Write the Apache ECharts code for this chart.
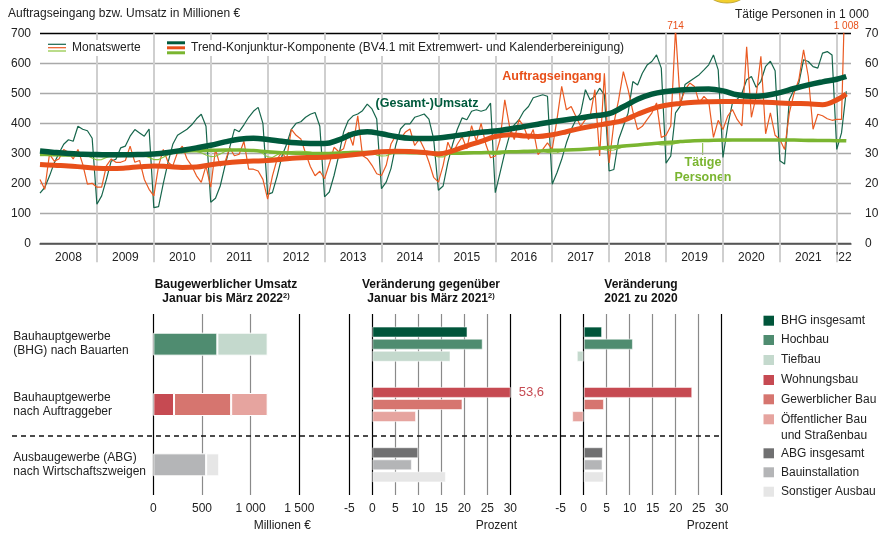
<!DOCTYPE html>
<html>
<head>
<meta charset="utf-8">
<script src="https://cdn.jsdelivr.net/npm/echarts@6/dist/echarts.min.js"></script>
<style>
  html, body { margin: 0; padding: 0; background: #fff; }
  #chart { width: 882px; height: 533px; }
</style>
</head>
<body>
<div id="chart"></div>
<script>
// Monatswerte Januar 2008 bis März 2022 (Mio. €)
const umsatz = [
  167, 186, 224, 268, 300, 330, 345, 340, 390, 380, 375, 350,
  130, 158, 213, 274, 280, 318, 324, 357, 379, 368, 357, 381,
  119, 122, 200, 270, 330, 360, 370, 380, 395, 415, 430, 390,
  137, 150, 191, 258, 320, 380, 372, 395, 420, 440, 453, 400,
  163, 169, 224, 290, 330, 380, 400, 405, 420, 430, 436, 390,
  155, 171, 226, 293, 370, 409, 425, 431, 442, 464, 448, 414,
  182, 204, 249, 326, 381, 398, 398, 420, 425, 431, 414, 348,
  177, 191, 270, 330, 380, 418, 412, 440, 445, 440, 445, 467,
  169, 235, 302, 360, 395, 412, 440, 456, 485, 490, 495, 490,
  197, 235, 280, 335, 379, 412, 434, 512, 478, 490, 517, 495,
  241, 246, 346, 390, 434, 539, 528, 567, 594, 606, 628, 584,
  267, 291, 435, 457, 529, 540, 551, 562, 578, 595, 628, 578,
  286, 391, 468, 480, 500, 545, 556, 520, 540, 590, 607, 575,
  275, 264, 479, 512, 534, 612, 606, 589, 584, 634, 639, 628,
  313, 368, 507
];
const auftrag = [
  213, 180, 297, 274, 281, 313, 303, 281, 313, 264, 197, 200,
  187, 187, 258, 281, 270, 270, 276, 324, 270, 276, 213, 180,
  158, 258, 313, 270, 258, 303, 324, 281, 258, 225, 203, 258,
  187, 313, 258, 270, 318, 292, 297, 340, 247, 247, 241, 213,
  147, 224, 281, 303, 281, 380, 360, 348, 300, 256, 225, 240,
  215, 265, 320, 305, 315, 370, 326, 425, 293, 282, 260, 232,
  226, 260, 331, 359, 348, 370, 381, 326, 348, 315, 271, 220,
  204, 260, 337, 300, 330, 355, 315, 392, 340, 400, 330, 285,
  291, 346, 478, 390, 346, 412, 390, 346, 379, 296, 313, 335,
  313, 412, 523, 445, 456, 423, 390, 412, 423, 512, 291, 567,
  268, 400, 478, 572, 512, 440, 379, 390, 412, 434, 468, 353,
  360, 391, 714, 468, 512, 534, 523, 468, 490, 473, 353, 410,
  379, 424, 446, 413, 391, 655, 420, 490, 623, 365, 435, 360,
  346, 313, 435, 501, 545, 645, 556, 380, 430, 425, 415, 410,
  413, 413, 1008
];
// Tätige Personen in 1 000
const personen = [
  29.2, 29.3, 29.6, 29.8, 29.9, 30.0, 30.0, 29.9, 29.8, 29.6, 29.2, 28.4,
  27.8, 27.9, 28.6, 29.2, 29.5, 29.6, 29.7, 29.7, 29.6, 29.5, 29.2, 28.6,
  27.9, 27.9, 28.7, 29.5, 30.0, 30.3, 30.5, 30.6, 30.6, 30.5, 30.2, 29.4,
  28.9, 29.0, 29.8, 30.6, 31.0, 31.2, 31.3, 31.3, 31.2, 31.1, 30.7, 29.9,
  28.8, 28.6, 29.5, 30.2, 30.5, 30.6, 30.7, 30.7, 30.6, 30.4, 30.0, 29.2,
  28.6, 28.5, 29.2, 30.0, 30.4, 30.6, 30.7, 30.7, 30.6, 30.4, 30.1, 29.4,
  29.1, 29.2, 29.8, 30.4, 30.6, 30.7, 30.7, 30.6, 30.5, 30.3, 30.0, 29.3,
  28.8, 28.8, 29.5, 30.1, 30.3, 30.4, 30.5, 30.5, 30.5, 30.4, 30.2, 29.8,
  29.6, 29.7, 30.2, 30.6, 30.8, 30.9, 31.0, 31.0, 31.0, 30.9, 30.7, 30.3,
  30.1, 30.2, 30.7, 31.1, 31.3, 31.4, 31.5, 31.6, 31.6, 31.6, 31.5, 31.2,
  31.0, 31.1, 31.6, 32.1, 32.4, 32.6, 32.7, 32.8, 32.9, 33.0, 33.0, 32.8,
  32.8, 32.9, 33.3, 33.6, 33.8, 33.9, 34.0, 34.1, 34.2, 34.2, 34.2, 34.1,
  34.0, 34.1, 34.3, 34.4, 34.5, 34.5, 34.6, 34.6, 34.6, 34.6, 34.5, 34.4,
  34.2, 34.1, 34.4, 34.6, 34.6, 34.6, 34.7, 34.7, 34.6, 34.6, 34.5, 34.3,
  34.2, 34.3, 34.5
];

// Trend-Konjunktur-Komponente, Quartalsanfang 2008 bis Januar 2022, dazu März 2022
const trendUmsatz = [
  308, 303, 299, 297,  296, 295, 295, 296,  298, 303, 310, 318,
  327, 338, 347, 350,  346, 340, 335, 333,  333, 345, 365, 372,
  365, 356, 350, 349,  351, 357, 364, 370,  374, 381, 389, 397,
  405, 412, 418, 425,  432, 455, 480, 497,  506, 511, 513, 514,
  508, 495, 490, 493,  502, 516, 528, 538,  547, 556
];
const trendAuftrag = [
  263, 260, 258, 254,  250, 249, 251, 255,  258, 256, 253, 254,
  262, 268, 272, 274,  276, 280, 284, 286,  287, 290, 295, 300,
  305, 307, 306, 303,  298, 308, 325, 340,  356, 362, 358, 356,
  362, 372, 383, 392,  400, 410, 430, 448,  460, 466, 470, 472,
  473, 473, 472, 470,  468, 466, 465, 462,  478, 498
];
const trendPersonen = [
  29.7, 29.5, 29.4, 29.4,  29.3, 29.3, 29.4, 29.6,  29.8, 30.2, 30.6, 30.9,
  31.0, 31.1, 31.1, 30.9,  30.5, 30.2, 30.0, 29.9,  29.9, 30.1, 30.3, 30.3,
  30.3, 30.3, 30.2, 30.1,  30.0, 30.0, 30.1, 30.2,  30.3, 30.5, 30.6, 30.8,
  31.0, 31.1, 31.3, 31.6,  32.0, 32.4, 32.8, 33.2,  33.6, 33.9, 34.2, 34.3,
  34.4, 34.4, 34.4, 34.4,  34.4, 34.4, 34.3, 34.3,  34.2, 34.2
];

const yearLabels = ['2008', '2009', '2010', '2011', '2012', '2013', '2014', '2015',
  '2016', '2017', '2018', '2019', '2020', '2021', "'22"];

// Untere Panels
const groupLabels = ['Bauhauptgewerbe\n(BHG) nach Bauarten', 'Bauhauptgewerbe\nnach Auftraggeber',
  'Ausbaugewerbe (ABG)\nnach Wirtschaftszweigen'];
const partNames = ['BHG insgesamt', 'Hochbau', 'Tiefbau', 'Wohnungsbau', 'Gewerblicher Bau',
  'Öffentlicher Bau\nund Straßenbau', 'ABG insgesamt', 'Bauinstallation', 'Sonstiger Ausbau'];
const partColors = ['#00553a', '#4f8c70', '#c4d9cd', '#c64a52', '#d6756f', '#e6a49f',
  '#707071', '#b4b5b7', '#e6e6e6'];
// Umsatz Januar bis März 2022, Mio. € (gestapelte Teile je Zeile)
const umsatzBauarten = [658, 517];           // Hochbau, Tiefbau
const umsatzAuftraggeber = [213, 587, 375];  // Wohnungsbau, Gewerblich, Öffentlich
const umsatzABG = [543, 135];                // Bauinstallation, Sonstiger Ausbau
// Veränderung in %
const changeVs2021 = [20.7, 24.0, 17.0, 53.6, 19.6, 9.5, 10.0, 8.6, 16.0];
const change2021vs2020 = [4.0, 10.7, -1.5, 23.6, 4.4, -2.5, 4.2, 4.1, 4.4];

const FONT = 'Liberation Sans, Arial, sans-serif';
const C_DARK = '#005a3c', C_DARK_THIN = '#17664c';
const C_ORANGE = '#e8501a', C_ORANGE_THIN = '#ea5a22';
const C_LIGHT = '#7ab530', C_LIGHT_THIN = '#8cc43c';

const monthX = i => 2008 + i / 12;
const trendX = i => (i < trendUmsatz.length - 1 ? 2008 + i / 4 : 2022 + 2 / 12);
const pairs = (arr, fx) => arr.map((v, i) => [fx(i), v]);
const fmtThousand = v => String(v).replace(/(\d)(\d{3})$/, '$1 $2');

const chart = echarts.init(document.getElementById('chart'), null, { renderer: 'canvas' });

const years = [];
for (let y = 2009; y <= 2022; y++) years.push(y);
const labelPos = yearLabels.map((s, i) => (i < 14 ? 2008 + i + 0.5 : 2022.125));

const bigMarks = auftrag
  .map((v, i) => ({ v, i }))
  .filter(d => d.v > 700)
  .map(d => ({ coord: [monthX(d.i), 700], value: d.v }));

function barAxisX(grid, min, max, interval, colors) {
  return {
    gridIndex: grid, type: 'value', min, max, interval,
    axisLine: { show: false }, axisTick: { show: false },
    splitLine: { show: true, lineStyle: { color: colors, width: 1.2 } },
    axisLabel: { color: '#222', fontSize: 12, fontFamily: FONT, margin: 8, formatter: fmtThousand }
  };
}
function barAxisY(grid, showLabels) {
  return {
    gridIndex: grid, type: 'category', inverse: true, data: groupLabels,
    axisLine: { show: false }, axisTick: { show: false }, splitLine: { show: false },
    axisLabel: showLabels
      ? { align: 'left', margin: 140, lineHeight: 14, padding: [7, 0, 0, 0],
          color: '#222', fontSize: 12, fontFamily: FONT }
      : { show: false }
  };
}

const series = [
  { name: 'Umsatz', type: 'line', xAxisIndex: 0, yAxisIndex: 0, data: pairs(umsatz, monthX),
    showSymbol: false, lineStyle: { color: C_DARK_THIN, width: 1.2 }, z: 2 },
  { name: 'Auftragseingang', type: 'line', xAxisIndex: 0, yAxisIndex: 0, data: pairs(auftrag, monthX),
    showSymbol: false, lineStyle: { color: C_ORANGE_THIN, width: 1.2 }, z: 2,
    markPoint: {
      symbol: 'circle', symbolSize: 0, data: bigMarks,
      label: { show: true, position: 'top', distance: 2, color: C_ORANGE, fontSize: 10,
        fontFamily: FONT, formatter: p => fmtThousand(p.value) }
    } },
  { name: 'Personen', type: 'line', xAxisIndex: 0, yAxisIndex: 1, data: pairs(personen, monthX),
    showSymbol: false, lineStyle: { color: C_LIGHT_THIN, width: 1.1 }, z: 2 },
  { name: 'Trend Personen', type: 'line', xAxisIndex: 0, yAxisIndex: 1, data: pairs(trendPersonen, trendX),
    showSymbol: false, smooth: 0.4, lineStyle: { color: C_LIGHT, width: 3.5 }, z: 3 },
  { name: 'Trend Auftrag', type: 'line', xAxisIndex: 0, yAxisIndex: 0, data: pairs(trendAuftrag, trendX),
    showSymbol: false, smooth: 0.4, lineStyle: { color: C_ORANGE, width: 5 }, z: 4 },
  { name: 'Trend Umsatz', type: 'line', xAxisIndex: 0, yAxisIndex: 0, data: pairs(trendUmsatz, trendX),
    showSymbol: false, smooth: 0.4, lineStyle: { color: C_DARK, width: 5.5 }, z: 5 }
];

// Panel 1: gestapelte Umsätze (xAxis 1 / yAxis 2)
const stackRows = [umsatzBauarten, umsatzAuftraggeber, umsatzABG];
const stackColors = [[1, 2], [3, 4, 5], [7, 8]];
for (let k = 0; k < 3; k++) {
  series.push({
    type: 'bar', xAxisIndex: 1, yAxisIndex: 2, stack: 'umsatz', barWidth: 23,
    data: stackRows.map((row, r) => row[k] == null ? '-' : {
      value: row[k], itemStyle: { color: partColors[stackColors[r][k]] }
    }),
    itemStyle: { borderColor: '#fff', borderWidth: 1 }
  });
}
// Panels 2 und 3: Veränderungen
[[changeVs2021, 2], [change2021vs2020, 3]].forEach(([vals, g]) => {
  for (let k = 0; k < 3; k++) {
    series.push({
      type: 'bar', xAxisIndex: g, yAxisIndex: g + 1, barWidth: 11, barGap: '10%',
      data: [0, 1, 2].map(r => {
        const idx = r * 3 + k;
        const item = { value: vals[idx], itemStyle: { color: partColors[idx] } };
        if (vals[idx] > 30) {
          item.label = { show: true, position: 'right', distance: 8, color: '#c64a52',
            fontSize: 13, fontFamily: FONT, formatter: String(vals[idx]).replace('.', ',') };
        }
        return item;
      }),
      itemStyle: { borderColor: 'rgba(255,255,255,0.55)', borderWidth: 1 }
    });
  }
});

const txt = (x, y, text, extra) => ({
  type: 'text', x, y, silent: true,
  style: Object.assign({ text, fontFamily: FONT, fontSize: 12, fill: '#222' }, extra || {})
});
const hline = (x1, x2, y, color, width, extra) => ({
  type: 'line', silent: true, shape: { x1, y1: y, x2, y2: y },
  style: Object.assign({ stroke: color, lineWidth: width }, extra || {})
});
const richTitle = {
  b: { fontWeight: 'bold', fontSize: 12, fontFamily: FONT, lineHeight: 14, fill: '#111' },
  s: { fontSize: 7.5, fontFamily: FONT, fontWeight: 'bold', verticalAlign: 'top', lineHeight: 14, fill: '#111' }
};

const graphic = [
  { type: 'ellipse', shape: { cx: 727, cy: -8, rx: 19, ry: 11 }, style: { fill: '#f2cf2e', stroke: '#b59a2a', lineWidth: 0.8 } },
  txt(8, 14, 'Auftragseingang bzw. Umsatz in Millionen €', { textVerticalAlign: 'middle' }),
  txt(869, 15, 'Tätige Personen in 1 000', { textAlign: 'right', textVerticalAlign: 'middle' }),
  // Legende oben
  { type: 'rect', shape: { x: 44, y: 40, width: 104, height: 16 }, style: { fill: '#fff' }, z: 10 },
  { type: 'rect', shape: { x: 162, y: 40, width: 484, height: 16 }, style: { fill: '#fff' }, z: 10 },
  Object.assign(hline(48, 66, 44.3, C_DARK_THIN, 1.2), { z: 11 }),
  Object.assign(hline(48, 66, 47.7, C_ORANGE_THIN, 1.2), { z: 11 }),
  Object.assign(hline(48, 66, 51, C_LIGHT_THIN, 1.2), { z: 11 }),
  Object.assign(txt(72, 48, 'Monatswerte', { textVerticalAlign: 'middle' }), { z: 11 }),
  Object.assign(hline(167, 185, 42.8, C_DARK, 3), { z: 11 }),
  Object.assign(hline(167, 185, 47.8, C_ORANGE, 3), { z: 11 }),
  Object.assign(hline(167, 185, 52.8, C_LIGHT, 3), { z: 11 }),
  Object.assign(txt(191, 48, 'Trend-Konjunktur-Komponente (BV4.1 mit Extremwert- und Kalenderbereinigung)',
    { textVerticalAlign: 'middle' }), { z: 11 }),
  // Beschriftungen der Linien
  Object.assign(txt(427, 104, '(Gesamt-)Umsatz', { textAlign: 'center', textVerticalAlign: 'middle',
    fontWeight: 'bold', fill: C_DARK, fontSize: 12.5 }), { z: 11 }),
  Object.assign(txt(552, 77, 'Auftragseingang', { textAlign: 'center', textVerticalAlign: 'middle',
    fontWeight: 'bold', fill: C_ORANGE, fontSize: 12.5 }), { z: 11 }),
  { type: 'line', shape: { x1: 702.7, y1: 143, x2: 702.7, y2: 155 }, style: { stroke: C_LIGHT, lineWidth: 1 } },
  txt(703, 170, 'Tätige\nPersonen', { textAlign: 'center', textVerticalAlign: 'middle', fontWeight: 'bold',
    fill: C_LIGHT, fontSize: 12.5, lineHeight: 15 }),
  // Titel der unteren Panels
  txt(226, 291.5, '{b|Baugewerblicher Umsatz}\n{b|Januar bis März 2022}{s|2)}',
    { textAlign: 'center', textVerticalAlign: 'middle', rich: richTitle }),
  txt(431, 291.5, '{b|Veränderung gegenüber}\n{b|Januar bis März 2021}{s|2)}',
    { textAlign: 'center', textVerticalAlign: 'middle', rich: richTitle }),
  txt(641, 291.5, 'Veränderung\n2021 zu 2020',
    { textAlign: 'center', textVerticalAlign: 'middle', fontWeight: 'bold', lineHeight: 14, fill: '#111' }),
  txt(311, 526, 'Millionen €', { textAlign: 'right', textVerticalAlign: 'middle' }),
  txt(517, 526, 'Prozent', { textAlign: 'right', textVerticalAlign: 'middle' }),
  txt(728, 526, 'Prozent', { textAlign: 'right', textVerticalAlign: 'middle' }),
  Object.assign(hline(12, 722, 436, '#111', 1.3, { lineDash: [5, 4] }), { z: 20 })
];
// Legende unten rechts
const legendY = [320.7, 340, 360, 380, 399.3, 419.3, 453.3, 472.3, 491.7];
partNames.forEach((name, i) => {
  graphic.push({ type: 'rect', shape: { x: 763.5, y: legendY[i] - 5, width: 10.5, height: 10 },
    style: { fill: partColors[i] } });
  graphic.push(txt(781, legendY[i] + (name.includes('\n') ? 8 : 0), name,
    { textVerticalAlign: 'middle', lineHeight: 16 }));
});

const option = {
  animation: false,
  backgroundColor: '#fff',
  textStyle: { fontFamily: FONT },
  grid: [
    { left: 40, top: 33.3, width: 811, height: 210 },
    { left: 153.3, top: 314, width: 146, height: 181 },
    { left: 349.3, top: 314, width: 161, height: 181 },
    { left: 560.7, top: 314, width: 161, height: 181 }
  ],
  xAxis: [
    {
      gridIndex: 0, type: 'value', min: 2008, max: 2022.25, interval: 1,
      axisLine: { show: true, lineStyle: { color: '#555', width: 1.5 } },
      axisTick: { show: true, customValues: years, length: 19, lineStyle: { color: '#cfcfcf', width: 2 } },
      splitLine: { show: true, lineStyle: { color: '#cfcfcf', width: 2 } },
      axisLabel: {
        customValues: labelPos, color: '#222', fontSize: 12, fontFamily: FONT, margin: 8,
        formatter: v => yearLabels[Math.min(14, Math.floor(v) - 2008)]
      }
    },
    barAxisX(1, 0, 1500, 500, ['#000', '#8a8a8a', '#8a8a8a', '#000']),
    barAxisX(2, -5, 30, 5, ['#000', '#000', '#8a8a8a', '#8a8a8a', '#8a8a8a', '#8a8a8a', '#8a8a8a', '#000']),
    barAxisX(3, -5, 30, 5, ['#000', '#000', '#8a8a8a', '#8a8a8a', '#8a8a8a', '#8a8a8a', '#8a8a8a', '#000'])
  ],
  yAxis: [
    {
      gridIndex: 0, type: 'value', min: 0, max: 700, interval: 100,
      axisLine: { show: false }, axisTick: { show: false },
      axisLabel: { color: '#222', fontSize: 12, fontFamily: FONT, margin: 9 },
      splitLine: { show: true, lineStyle: { color: ['#555', '#a9a9a9', '#a9a9a9', '#a9a9a9', '#a9a9a9', '#a9a9a9', '#a9a9a9', '#000'], width: 1.3 } }
    },
    {
      gridIndex: 0, type: 'value', min: 0, max: 70, interval: 10, position: 'right',
      axisLine: { show: false }, axisTick: { show: false }, splitLine: { show: false },
      axisLabel: { color: '#222', fontSize: 12, fontFamily: FONT, margin: 14 }
    },
    barAxisY(1, true),
    barAxisY(2, false),
    barAxisY(3, false)
  ],
  series,
  graphic
};

chart.setOption(option);
</script>
</body>
</html>
